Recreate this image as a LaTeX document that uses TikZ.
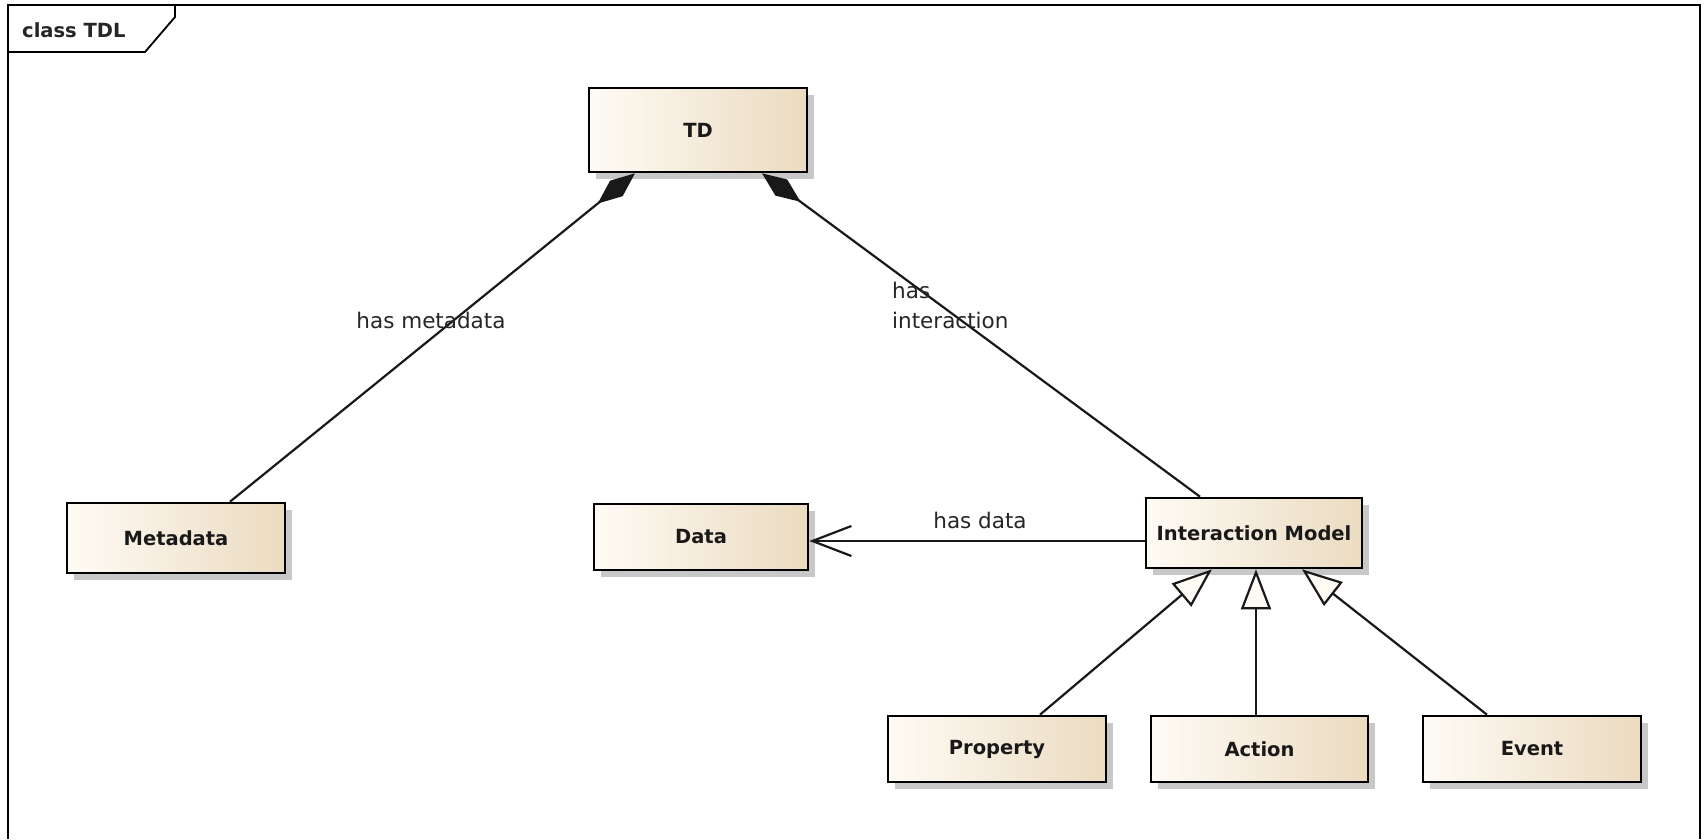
\documentclass[tikz,border=0pt]{standalone}
\usepackage{fontspec}
\setmainfont{DejaVu Sans}
\usetikzlibrary{arrows.meta,shadows}
\definecolor{cream}{RGB}{254,251,245}
\definecolor{tanc}{RGB}{235,219,192}
\definecolor{shadowgray}{RGB}{200,200,200}
\begin{document}
\begin{tikzpicture}[x=1pt,y=-1pt,
  cls/.style={draw=black, line width=2.6pt, left color=cream, right color=tanc,
    minimum height=66pt, minimum width=218pt, inner sep=0pt,
    font=\fontsize{19.5}{23}\selectfont\bfseries, text=black!90,
    drop shadow={shadow xshift=7pt, shadow yshift=-7pt, fill=shadowgray, opacity=1}},
  conn/.style={line width=2.2pt, draw=black!90},
  lbl/.style={font=\fontsize{21.5}{30}\selectfont, text=black!85, inner sep=0pt},
  comp/.style={{Diamond[length=48pt,width=20pt]}-},
  gen/.style={-{Triangle[length=40pt,width=30pt,fill=cream]}},
  nav/.style={-{Straight Barb[length=39pt,width=30pt]}},
]
\useasboundingbox (0,0) rectangle (1706,839);
\fill[white] (0,0) rectangle (1706,839);
% frame
\draw[line width=2.2pt] (8,839) -- (8,5) -- (1700,5) -- (1700,839);
\draw[line width=1.8pt] (8,52) -- (145,52) -- (175,17) -- (175,5);
\node[anchor=base west, inner sep=0pt, font=\fontsize{19.5}{23}\selectfont\bfseries, text=black!85] (title) at (22,37) {class TDL};

% classes
\node[cls, minimum height=84pt] (TD) at (698,130) {TD};
\node[cls, minimum height=70pt] (Metadata) at (176,538) {Metadata};
\node[cls, minimum width=214pt] (Data) at (701,537) {Data};
\node[cls, minimum width=216pt, minimum height=70pt] (IM) at (1254,533) {Interaction Model};
\node[cls] (Property) at (997,749) {Property};
\node[cls, minimum width=217pt] (Action) at (1259.5,749) {Action};
\node[cls] (Event) at (1532,749) {Event};

% connectors
\draw[conn, comp] ([xshift=-63pt]TD.south) -- ([xshift=54pt]Metadata.north);
\draw[conn, comp] ([xshift=64pt]TD.south) -- ([xshift=-54pt]IM.north);
\draw[conn, nav] ([yshift=-8pt]IM.west) -- ([yshift=-8pt]IM.west -| Data.east);
\draw[conn, gen] ([xshift=43pt]Property.north) -- ([xshift=-42pt]IM.south);
\draw[conn, gen] ([xshift=-3.5pt]Action.north) -- ([xshift=-3.5pt]Action.north |- IM.south);
\draw[conn, gen] ([xshift=-45pt]Event.north) -- ([xshift=48pt]IM.south);

% labels
\node[lbl, anchor=base] (l1) at (431,328) {has metadata};
\node[lbl, anchor=base west, align=left] (l2) at (892,328) {has\\interaction};
\node[lbl, anchor=base] (l3) at (980,528) {has data};
\end{tikzpicture}
\end{document}
